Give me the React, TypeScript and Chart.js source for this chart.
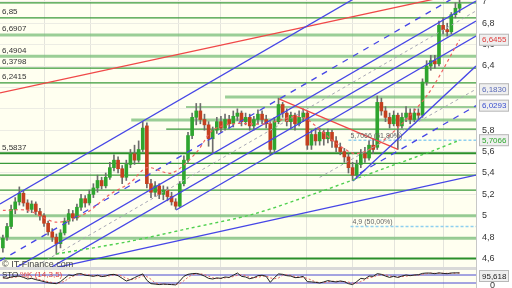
import React, { useEffect, useRef } from "react";
import { Chart, registerables } from "chart.js";

Chart.register(...registerables);

// ---- candle data (index = trading day) ----
const opens = [
  4.70, 4.80, 4.90, 5.06, 5.13, 5.21, 5.12, 5.06, 5.11, 5.04,
  5.00, 4.93, 4.85, 4.80, 4.74, 4.84, 4.95, 5.02, 4.98, 5.08,
  5.16, 5.12, 5.20, 5.26, 5.33, 5.28, 5.36, 5.45, 5.52, 5.44,
  5.36, 5.48, 5.58, 5.52, 5.62, 5.84, 5.30, 5.22, 5.28, 5.20,
  5.24, 5.18, 5.13, 5.09, 5.30, 5.52, 5.75, 5.92, 5.98, 5.90,
  5.85, 5.72, 5.80, 5.88, 5.82, 5.90, 5.86, 5.93, 5.96, 5.88,
  5.92, 5.84, 5.90, 5.95, 5.90, 5.86, 5.62, 5.88, 6.04, 5.96,
  5.88, 5.94, 5.86, 5.92, 5.96, 5.66, 5.76, 5.70, 5.78, 5.72,
  5.78, 5.70, 5.64, 5.60, 5.55, 5.45, 5.38, 5.48, 5.58, 5.54,
  5.66, 5.64, 6.06, 5.98, 5.92, 5.86, 5.94, 5.84, 5.92, 5.96,
  5.90, 5.96, 5.94, 6.25, 6.40, 6.45, 6.42, 6.78, 6.74, 6.72,
  6.88, 6.94,
];
const closes = [
  4.79, 4.90, 5.06, 5.13, 5.21, 5.12, 5.06, 5.11, 5.04, 5.00,
  4.93, 4.85, 4.80, 4.74, 4.84, 4.95, 5.02, 4.98, 5.08, 5.16,
  5.12, 5.20, 5.26, 5.33, 5.28, 5.36, 5.45, 5.52, 5.44, 5.36,
  5.48, 5.58, 5.52, 5.62, 5.82, 5.30, 5.22, 5.28, 5.20, 5.24,
  5.18, 5.13, 5.09, 5.30, 5.52, 5.75, 5.92, 5.98, 5.90, 5.85,
  5.72, 5.80, 5.88, 5.82, 5.90, 5.86, 5.93, 5.96, 5.88, 5.92,
  5.84, 5.90, 5.95, 5.90, 5.86, 5.62, 5.88, 6.04, 5.96, 5.88,
  5.94, 5.86, 5.92, 5.96, 5.66, 5.76, 5.70, 5.78, 5.72, 5.78,
  5.70, 5.64, 5.60, 5.55, 5.45, 5.38, 5.48, 5.58, 5.54, 5.66,
  5.62, 6.06, 5.98, 5.92, 5.86, 5.94, 5.84, 5.92, 5.96, 5.90,
  5.96, 5.94, 6.25, 6.40, 6.45, 6.42, 6.78, 6.74, 6.72, 6.88,
  6.94, 6.98,
];
const highs = [
  4.82, 4.93, 5.10, 5.17, 5.27, 5.23, 5.15, 5.14, 5.13, 5.07,
  5.02, 4.95, 4.88, 4.83, 4.87, 4.98, 5.06, 5.05, 5.11, 5.20,
  5.19, 5.24, 5.30, 5.38, 5.36, 5.40, 5.50, 5.57, 5.55, 5.47,
  5.52, 5.62, 5.66, 5.70, 5.88, 5.87, 5.34, 5.32, 5.30, 5.28,
  5.27, 5.22, 5.16, 5.32, 5.56, 5.78, 5.96, 6.05, 6.05, 5.95,
  5.88, 5.83, 5.92, 5.93, 5.95, 5.94, 5.98, 6.00, 5.98, 5.96,
  5.95, 5.93, 5.99, 5.98, 5.94, 5.88, 5.92, 6.10, 6.06, 6.00,
  5.97, 5.96, 5.98, 6.00, 5.98, 5.80, 5.82, 5.82, 5.80, 5.81,
  5.80, 5.74, 5.68, 5.63, 5.58, 5.50, 5.52, 5.62, 5.64, 5.70,
  5.72, 6.12, 6.10, 6.02, 5.96, 5.98, 5.96, 5.96, 6.02, 6.00,
  6.00, 6.00, 6.28, 6.45, 6.50, 6.50, 6.82, 6.85, 6.80, 6.90,
  6.99, 7.02,
];
const lows = [
  4.66, 4.77, 4.88, 5.02, 5.10, 5.09, 5.03, 5.03, 5.01, 4.96,
  4.90, 4.82, 4.76, 4.64, 4.70, 4.82, 4.92, 4.95, 4.96, 5.05,
  5.08, 5.10, 5.17, 5.22, 5.25, 5.26, 5.34, 5.42, 5.40, 5.30,
  5.33, 5.45, 5.48, 5.50, 5.60, 5.26, 5.17, 5.18, 5.16, 5.15,
  5.14, 5.10, 5.06, 5.08, 5.28, 5.50, 5.72, 5.85, 5.86, 5.80,
  5.65, 5.58, 5.77, 5.78, 5.80, 5.82, 5.83, 5.89, 5.84, 5.85,
  5.80, 5.80, 5.86, 5.86, 5.82, 5.57, 5.60, 5.86, 5.92, 5.84,
  5.82, 5.80, 5.84, 5.88, 5.62, 5.62, 5.66, 5.66, 5.66, 5.68,
  5.64, 5.60, 5.57, 5.50, 5.40, 5.33, 5.35, 5.45, 5.50, 5.52,
  5.58, 5.62, 5.94, 5.88, 5.82, 5.84, 5.62, 5.82, 5.88, 5.86,
  5.88, 5.90, 5.92, 6.22, 6.36, 6.38, 6.40, 6.70, 6.68, 6.70,
  6.85, 6.90,
];

// ---- stochastic oscillator ----
const stochK = [
  60, 55, 65, 70, 72, 62, 50, 55, 45, 38,
  30, 22, 18, 15, 30, 55, 80, 75, 88, 90,
  78, 75, 70, 78, 68, 72, 82, 85, 75, 55,
  35, 45, 60, 75, 88, 40, 15, 12, 8, 12,
  10, 8, 6, 35, 70, 85, 90, 92, 85, 72,
  55, 50, 58, 55, 65, 62, 78, 95, 70, 65,
  52, 60, 75, 78, 70, 25, 60, 88, 85, 75,
  72, 60, 62, 70, 30, 28, 25, 20, 28, 38,
  32, 28, 35, 30, 15, 8, 30, 55, 50, 72,
  70, 90, 85, 72, 62, 70, 62, 72, 80, 75,
  80, 82, 92, 95, 94, 90, 96, 92, 90, 95,
  96, 95.618,
];
const stochD = [
  58, 58, 60, 63, 69, 68, 61, 56, 50, 46,
  38, 30, 23, 18, 21, 33, 55, 70, 81, 84,
  85, 81, 74, 74, 72, 73, 74, 80, 81, 72,
  55, 45, 47, 60, 74, 68, 48, 22, 12, 11,
  10, 10, 8, 16, 37, 63, 82, 89, 89, 83,
  71, 59, 54, 54, 59, 61, 68, 78, 81, 77,
  62, 59, 62, 71, 74, 58, 52, 58, 78, 83,
  77, 69, 65, 64, 54, 43, 28, 24, 24, 29,
  33, 33, 32, 31, 27, 18, 18, 31, 45, 59,
  64, 77, 82, 82, 73, 68, 65, 68, 71, 76,
  78, 79, 85, 90, 94, 93, 93, 93, 93, 92,
  94, 95,
];
const stochBands = [80, 20];

// ---- horizontal support / resistance levels ----
const thinLevels = [6.99, 6.85, 6.3798, 6.2415, 6.017, 5.81, 5.49, 5.38, 5.24];
const thinLevelFrom = [-0.7, -0.7, -0.7, -0.7, 44.5, 39.7, -0.7, -0.7, -0.7];
const boldLevels = [5.5837, 4.6];
const paleLevels = [6.6907, 6.4904, 6.11, 5.895, 5.0, 4.79];
const paleLevelFrom = [-0.7, -0.7, 54, 31.2, -0.7, -0.7];
const namedLevels = [6.85, 6.6907, 6.4904, 6.3798, 6.2415, 5.5837];

// ---- fibonacci retracements ----
const fibValues = [5.7066, 4.9];
const fibNames = ["5,7066 (61,80%)", "4,9 (50,00%)"];
const fibFrom = [84, 84.5];

// ---- trend lines: [x0, y0, x1, y1] in (day index, price) ----
const blueSolid = [
  [-0.7, 5.11, 115, 7.69],
  [-0.7, 4.428, 115, 7.008],
  [-0.7, 4.241, 115, 6.821],
  [42.1, 5.054, 115, 6.68],
  [-0.7, 4.4, 115, 5.381],
  [85.1, 5.325, 115, 6.4],
];
const blueDashed = [
  [-0.7, 4.578, 115, 7.158],
  [86.8, 5.4, 115, 6.0293],
];
const greyDashed = [
  [-0.7, 4.335, 115, 6.915],
  [77, 5.359, 115, 6.183],
];
const redSolid = [
  [-0.7, 6.148, 115, 7.11],
  [67.1, 6.092, 96, 5.62],
];

// ---- moving averages ----
const maShortX = [0, 6, 13, 20, 26, 31, 35, 41, 47, 51, 56, 64, 71, 74, 81, 86, 93, 103, 111];
const maShortY = [5.05, 5.05, 4.94, 5.02, 5.2, 5.31, 5.45, 5.4, 5.59, 5.8, 5.86, 5.86, 5.93, 5.9, 5.68, 5.58, 5.72, 6.12, 6.6455];
const maLongX = [13, 30, 45, 61, 77, 93, 104, 111];
const maLongY = [4.643, 4.755, 4.88, 5.017, 5.223, 5.447, 5.6, 5.7066];

// ---- axes ----
const priceTicks = [4.6, 4.8, 5, 5.2, 5.4, 5.6, 5.8, 6, 6.2, 6.4, 6.6, 6.8, 7];
const monthStarts = [10.2, 21.4, 42.6, 53, 73.7, 85.1, 95.1, 107.2];

// ---- value boxes on the right axis ----
const boxValues = [6.6455, 6.183, 6.0293, 5.7066];
const boxColors = ["#e03a3a", "#5a6ab8", "#3a4fd0", "#2ea82e"];
const stochLast = 95.618;

const fmt = (v: number, d?: number) =>
  (d === undefined ? String(+v.toFixed(2)) : v.toFixed(d)).replace(".", ",");

const FONT = "'Liberation Sans', Arial, sans-serif";

function seg(p: number[], color: string, width: number, dash: number[] = [], order = 5) {
  return {
    type: "line" as const,
    data: [{ x: p[0], y: p[1] }, { x: p[2], y: p[3] }],
    borderColor: color,
    borderWidth: width,
    borderDash: dash,
    pointRadius: 0,
    yAxisID: "y",
    order,
  };
}

function hline(v: number, color: string, width: number, order = 20, from = -0.7, dash: number[] = []) {
  return seg([from, v, 115, v], color, width, dash, order);
}

const decor = {
  id: "decor",
  beforeDraw(chart: any) {
    const { ctx, chartArea } = chart;
    ctx.save();
    ctx.fillStyle = "#ffffff";
    ctx.fillRect(0, 0, chart.width, chart.height);
    ctx.fillStyle = "#fffff0";
    ctx.fillRect(chartArea.left, chartArea.top, chartArea.right - chartArea.left, chartArea.bottom - chartArea.top);
    ctx.restore();
  },
  afterDatasetsDraw(chart: any) {
    const { ctx, chartArea, scales } = chart;
    const y = scales.y;
    const x = scales.x;
    const y2 = scales.y2;
    ctx.save();
    ctx.font = `8px ${FONT}`;
    ctx.fillStyle = "#333";
    ctx.textBaseline = "bottom";
    ctx.textAlign = "left";
    namedLevels.forEach((v) => {
      ctx.fillText(fmt(v, v === 6.85 ? 2 : 4), 2, y.getPixelForValue(v) - 2);
    });
    ctx.fillStyle = "#666";
    ctx.font = `7px ${FONT}`;
    fibValues.forEach((v, i) => {
      ctx.fillText(fibNames[i], x.getPixelForValue(fibFrom[i]) + 2, y.getPixelForValue(v) - 1);
    });
    ctx.font = `9px ${FONT}`;
    ctx.fillStyle = "#444";
    ctx.textBaseline = "middle";
    ctx.fillText("\u00a9 IT-Finance.com", 2, y.bottom - 3);
    ctx.fillStyle = "#d9d9d9";
    ctx.fillRect(0, y2.top - 1, chartArea.right, 3);
    ctx.font = `8px ${FONT}`;
    ctx.textBaseline = "middle";
    ctx.fillStyle = "#222";
    ctx.fillText("STO", 2, y2.top + 7);
    ctx.fillStyle = "#e04040";
    ctx.fillText("%K (14,3,5)", 20, y2.top + 7);
    ctx.restore();
  },
  afterDraw(chart: any) {
    const { ctx, chartArea, scales } = chart;
    const y = scales.y;
    const y2 = scales.y2;
    ctx.save();
    ctx.font = `8px ${FONT}`;
    ctx.textBaseline = "middle";
    ctx.textAlign = "left";
    const box = (py: number, text: string, color: string) => {
      const bx = chartArea.right + 3;
      ctx.fillStyle = "#efefef";
      ctx.fillRect(bx, py - 6, 30, 12);
      ctx.strokeStyle = "#b8b8b8";
      ctx.lineWidth = 1;
      ctx.strokeRect(bx + 0.5, py - 5.5, 29, 11);
      ctx.fillStyle = color;
      ctx.fillText(text, bx + 3, py + 0.5);
    };
    boxValues.forEach((v, i) => box(y.getPixelForValue(v), fmt(v, 4), boxColors[i]));
    box(Math.max(y2.getPixelForValue(stochLast), y2.top + 8), fmt(stochLast, 3), "#222");
    ctx.restore();
  },
};

export default function App() {
  const ref = useRef<HTMLCanvasElement | null>(null);

  useEffect(() => {
    document.body.style.margin = "0";
    const canvas = ref.current;
    if (!canvas) return;

    const up = "#2fa52f";
    const down = "#c4401f";

    const datasets: any[] = [];
    thinLevels.forEach((v, i) => datasets.push(hline(v, "#3a9a3a", 1.2, 20, thinLevelFrom[i])));
    boldLevels.forEach((v) => datasets.push(hline(v, "#2a8f2a", 2)));
    paleLevels.forEach((v, i) => datasets.push(hline(v, "rgba(120,190,120,0.75)", 3, 21, paleLevelFrom[i])));
    fibValues.forEach((v, i) => datasets.push(hline(v, "#8fd0f0", 1.5, 19, fibFrom[i], [3, 2])));

    datasets.push({
      type: "bar",
      data: highs.map((h, i) => ({ x: i, y: [lows[i], h] })),
      backgroundColor: "#6d6d6d",
      barThickness: 1,
      grouped: false,
      yAxisID: "y",
      order: 15,
    });
    datasets.push({
      type: "bar",
      data: opens.map((o, i) => ({ x: i, y: [o, closes[i]] })),
      backgroundColor: opens.map((o, i) => (closes[i] >= o ? up : down)),
      barThickness: 3,
      minBarLength: 1,
      grouped: false,
      yAxisID: "y",
      order: 14,
    });

    blueSolid.forEach((p) => datasets.push(seg(p, "#4646e6", 1.3)));
    blueDashed.forEach((p) => datasets.push(seg(p, "#4646e6", 1.3, [6, 6])));
    greyDashed.forEach((p) => datasets.push(seg(p, "#a8a8b4", 1, [3, 3])));
    redSolid.forEach((p) => datasets.push(seg(p, "#f04848", 1.3)));

    datasets.push({
      type: "line",
      data: maShortX.map((x, i) => ({ x, y: maShortY[i] })),
      borderColor: "#f06060",
      borderWidth: 1.2,
      borderDash: [3, 3],
      pointRadius: 0,
      tension: 0.3,
      yAxisID: "y",
      order: 4,
    });
    datasets.push({
      type: "line",
      data: maLongX.map((x, i) => ({ x, y: maLongY[i] })),
      borderColor: "#4fd04f",
      borderWidth: 1.4,
      borderDash: [3, 3],
      pointRadius: 0,
      tension: 0.3,
      yAxisID: "y",
      order: 4,
    });

    stochBands.forEach((v) =>
      datasets.push({
        type: "line",
        data: [{ x: -0.7, y: v }, { x: 115, y: v }],
        borderColor: "#4b4bd0",
        borderWidth: 1,
        pointRadius: 0,
        yAxisID: "y2",
        order: 6,
      })
    );
    datasets.push({
      type: "line",
      data: stochD.map((v, i) => ({ x: i, y: v })),
      borderColor: "#e86a6a",
      borderWidth: 1,
      borderDash: [2, 2],
      pointRadius: 0,
      yAxisID: "y2",
      order: 3,
    });
    datasets.push({
      type: "line",
      data: stochK.map((v, i) => ({ x: i, y: v })),
      borderColor: "#222",
      borderWidth: 1,
      pointRadius: 0,
      yAxisID: "y2",
      order: 2,
    });

    const fitY = (s: any) => {
      s.width = 36;
      s.paddingTop = 0;
      s.paddingBottom = 0;
    };

    const chart = new Chart(canvas, {
      type: "bar",
      data: { datasets },
      options: {
        animation: false,
        responsive: false,
        events: [],
        layout: { padding: 0 },
        plugins: { legend: { display: false }, tooltip: { enabled: false } },
        scales: {
          x: {
            type: "linear",
            offset: false,
            min: -0.7,
            max: 115,
            ticks: { display: false },
            grid: { color: "#e4e4dc", drawTicks: false, offset: false },
            border: { display: false },
            afterBuildTicks: (s: any) => {
              s.ticks = monthStarts.map((v) => ({ value: v }));
            },
            afterFit: (s: any) => {
              s.height = 0;
              s.paddingLeft = 0;
              s.paddingRight = 0;
            },
          },
          y: {
            type: "linear",
            position: "right",
            min: 4.512,
            max: 7.017,
            stack: "panes",
            stackWeight: 268,
            grid: { color: "#ecece4", drawTicks: false },
            border: { display: true, color: "#c8c8c8" },
            ticks: {
              padding: 6,
              autoSkip: false,
              color: "#333",
              font: { size: 9, family: FONT },
              callback: (v: any) => fmt(Number(v)),
            },
            afterBuildTicks: (s: any) => {
              s.ticks = priceTicks.map((v) => ({ value: v }));
            },
            afterFit: fitY,
          },
          y2: {
            type: "linear",
            position: "right",
            min: -17.5,
            max: 132.5,
            stack: "panes",
            stackWeight: 20,
            grid: { display: false },
            border: { display: true, color: "#c8c8c8" },
            ticks: {
              padding: 6,
              autoSkip: false,
              color: "#333",
              font: { size: 9, family: FONT },
              callback: (v: any) => String(v),
            },
            afterBuildTicks: (s: any) => {
              s.ticks = [{ value: 0 }];
            },
            afterFit: fitY,
          },
        },
      } as any,
      plugins: [decor],
    });
    return () => chart.destroy();
  }, []);

  return (
    <div style={{ width: 512, height: 288 }}>
      <canvas ref={ref} width={512} height={288} style={{ display: "block" }} />
    </div>
  );
}
